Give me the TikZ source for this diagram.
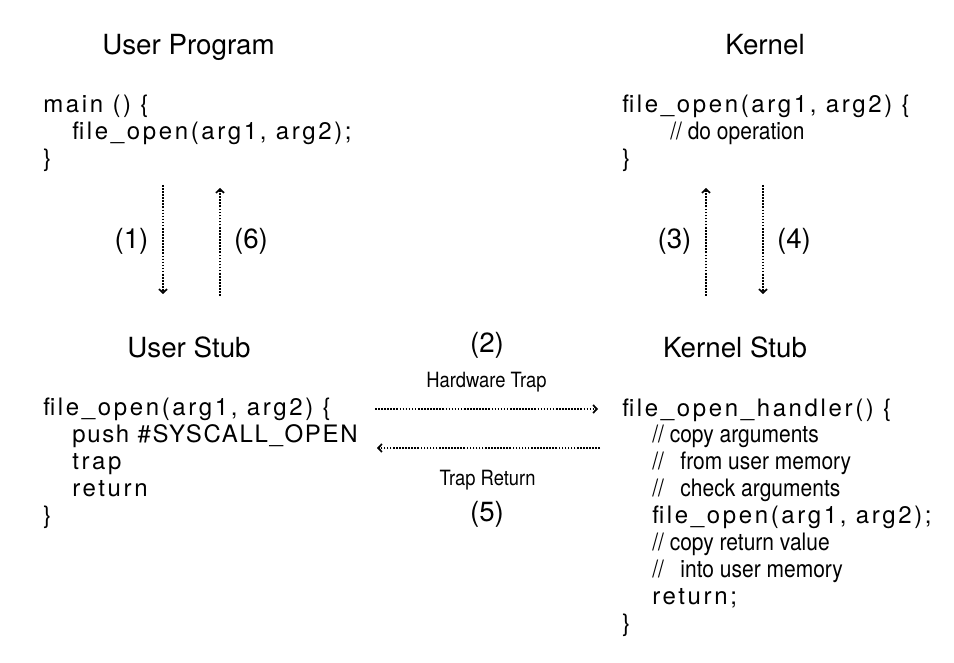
\documentclass[tikz,border=0pt]{standalone}
\usepackage{fontspec}
\setmainfont{TeX Gyre Heros}
\newfontfamily\codefont[LetterSpace=11]{TeX Gyre Heros}
\newfontfamily\capsfont[LetterSpace=7]{TeX Gyre Heros}
\newfontfamily\cmtfont[FakeStretch=0.875]{TeX Gyre Heros}
\usetikzlibrary{arrows.meta}
\tikzstyle{heading}=[font=\fontsize{20.8}{25}\selectfont, anchor=base, inner sep=0pt]
% multi-line: base anchor sits on the last line
\tikzstyle{codeblock}=[font=\codefont\fontsize{18}{20.2}\selectfont, align=left, anchor=base west, inner sep=0pt]
\tikzstyle{trapname}=[font=\cmtfont\fontsize{15.75}{18}\selectfont, anchor=base, inner sep=0pt]
\tikzstyle{call}=[line width=1.3pt, dash pattern=on 1.2pt off 1.1pt, -{Straight Barb[length=2.8pt,width=6pt]}]

\begin{document}
\begin{tikzpicture}[x=0.75pt, y=-0.75pt]
        \useasboundingbox (0,0) rectangle (954,663);
        % headings
        \node[heading] (uprogtitle) at (188.5,55) {User Program};
        \node[heading] (kerneltitle) at (765,55) {Kernel};
        \node[heading] (ustubtitle) at (189,358) {User Stub};
        \node[heading] (kstubtitle) at (735,358) {Kernel Stub};
        % code
        \node[codeblock] (uprog) at (43,166.8) {main () \{\\
          \hspace*{21.75pt}file\_open(arg1, arg2);\\
          \}};
        \node[codeblock] (kernel) at (622,166.8) {file\_open(arg1, arg2) \{\\
          \hspace*{36pt}{\cmtfont // do operation}\\
          \}};
        \node[codeblock] (ustub) at (43,523.7) {file\_open(arg1, arg2) \{\\
          \hspace*{21.75pt}{\capsfont push \#SYSCALL\_OPEN}\\
          \hspace*{21.75pt}trap\\
          \hspace*{21.75pt}return\\
          \}};
        \node[codeblock] (kstub) at (622,631.5) {file\_open\_handler() \{\\
          \hspace*{22.5pt}{\cmtfont // copy arguments}\\
          \hspace*{22.5pt}{\cmtfont //\hspace{8pt} from user memory}\\
          \hspace*{22.5pt}{\cmtfont //\hspace{8pt} check arguments}\\
          \hspace*{22.5pt}file\_open(arg1, arg2);\\
          \hspace*{22.5pt}{\cmtfont // copy return value}\\
          \hspace*{22.5pt}{\cmtfont //\hspace{8pt} into user memory}\\
          \hspace*{22.5pt}return;\\
          \}};
        % step numbers
        \node[heading] (s1) at (131.5,249) {(1)};
        \node[heading] (s6) at (251,249) {(6)};
        \node[heading] (s3) at (674.5,249) {(3)};
        \node[heading] (s4) at (794,249) {(4)};
        \node[heading] (s2) at (487,353) {(2)};
        \node[heading] (s5) at (487,521) {(5)};
        \node[trapname] (hwtrap) at (486.5,387) {Hardware Trap};
        \node[trapname] (trapret) at (487.5,485) {Trap Return};
        % arrow ends
        \coordinate (d1top) at (163,185);
        \coordinate (d1bot) at (163,294);
        \coordinate (d6bot) at (220,296);
        \coordinate (d6top) at (220,188);
        \coordinate (d3bot) at (706,296);
        \coordinate (d3top) at (706,188);
        \coordinate (d4top) at (763,185);
        \coordinate (d4bot) at (763,294);
        \coordinate (trapfrom) at (375,409);
        \coordinate (trapto) at (598,409);
        \coordinate (retfrom) at (600,448);
        \coordinate (retto) at (377,448);
        \draw[call] (d1top) -- (d1bot);
        \draw[call] (d6bot) -- (d6top);
        \draw[call] (d3bot) -- (d3top);
        \draw[call] (d4top) -- (d4bot);
        \draw[call] (trapfrom) -- (trapto);
        \draw[call] (retfrom) -- (retto);
\end{tikzpicture}
\end{document}
